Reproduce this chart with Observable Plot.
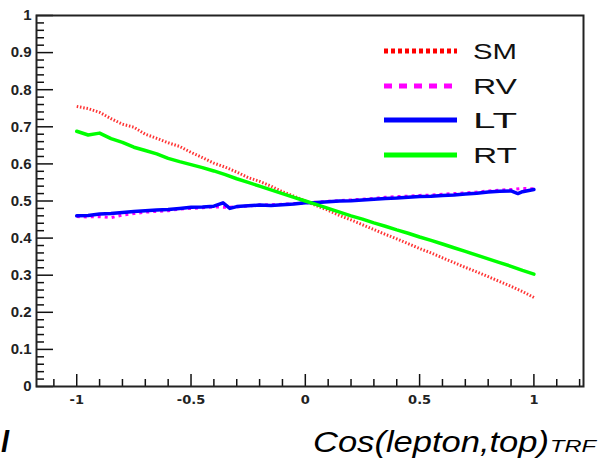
<!DOCTYPE html>
<html><head><meta charset="utf-8">
<script src="https://cdn.jsdelivr.net/npm/d3@7"></script>
<script src="https://cdn.jsdelivr.net/npm/@observablehq/plot@0.6"></script>
<style>body{margin:0;background:#fff}#chart{width:609px;height:461px}</style>
</head><body><div id="chart"></div>
<script>
// x values (bin centres) for SM, RV, RT
const xs = [-1,-0.95,-0.9,-0.85,-0.8,-0.75,-0.7,-0.65,-0.6,-0.55,-0.5,-0.45,-0.4,-0.35,-0.3,-0.25,-0.2,-0.15,-0.1,-0.05,0,0.05,0.1,0.15,0.2,0.25,0.3,0.35,0.4,0.45,0.5,0.55,0.6,0.65,0.7,0.75,0.8,0.85,0.9,0.95,1];
const smVals = [0.755,0.749,0.739,0.722,0.707,0.699,0.680,0.669,0.657,0.647,0.631,0.617,0.602,0.591,0.578,0.563,0.553,0.540,0.525,0.513,0.500,0.487,0.475,0.461,0.449,0.436,0.423,0.410,0.398,0.385,0.372,0.360,0.347,0.334,0.321,0.309,0.296,0.283,0.270,0.256,0.240];
const rvVals = [0.458,0.457,0.458,0.455,0.462,0.466,0.470,0.472,0.474,0.478,0.480,0.482,0.484,0.483,0.484,0.487,0.489,0.490,0.491,0.493,0.495,0.497,0.499,0.501,0.503,0.505,0.507,0.510,0.512,0.513,0.515,0.516,0.518,0.520,0.522,0.524,0.527,0.529,0.531,0.534,0.533];
const rtVals = [0.688,0.678,0.683,0.668,0.658,0.645,0.636,0.627,0.615,0.606,0.598,0.590,0.581,0.571,0.560,0.550,0.540,0.530,0.520,0.510,0.500,0.490,0.480,0.470,0.460,0.451,0.441,0.432,0.422,0.413,0.403,0.394,0.384,0.374,0.364,0.354,0.344,0.334,0.324,0.313,0.303];
const ltX = [-1,-0.95,-0.9,-0.85,-0.8,-0.75,-0.7,-0.65,-0.6,-0.55,-0.5,-0.45,-0.4,-0.36,-0.33,-0.3,-0.25,-0.2,-0.15,-0.1,-0.05,0,0.05,0.1,0.15,0.2,0.25,0.3,0.35,0.4,0.45,0.5,0.55,0.6,0.65,0.7,0.75,0.8,0.85,0.9,0.93,0.95,1];
const ltVals = [0.460,0.461,0.465,0.466,0.469,0.472,0.474,0.476,0.477,0.480,0.483,0.484,0.486,0.495,0.480,0.485,0.487,0.489,0.488,0.490,0.492,0.495,0.496,0.498,0.500,0.501,0.503,0.505,0.507,0.508,0.510,0.512,0.513,0.515,0.516,0.519,0.521,0.524,0.526,0.527,0.520,0.525,0.531];

const seriesNames = ["SM","RV","LT","RT"];
const seriesColors = ["#ff0000","#ff00ff","#0000ff","#00ff00"];

const xTickVals = [-1,-0.5,0,0.5,1];
const xTickLabels = ["-1","-0.5","0","0.5","1"];
const yTickVals = [0,0.1,0.2,0.3,0.4,0.5,0.6,0.7,0.8,0.9,1];
const yTickLabels = ["0","0.1","0.2","0.3","0.4","0.5","0.6","0.7","0.8","0.9","1"];
const xTitle = "Cos(lepton,top)";
const xTitleSub = "TRF";
const cutText = "l";

const W = 609, H = 461, mL = 36, mT = 15, mR = 26, mB = 75;
const fw = W - mL - mR, fh = H - mT - mB;

const xMinor = d3.range(-11, 13).map(i => i / 10).filter(v => Math.abs(v * 2 - Math.round(v * 2)) > 1e-6);
const yMinor = d3.range(1, 50).map(i => i / 50).filter(v => Math.abs(v * 10 - Math.round(v * 10)) > 1e-6);

const toRows = (xArr, yArr) => xArr.map((x, i) => ({x, y: yArr[i]}));
const sm = toRows(xs, smVals), rv = toRows(xs, rvVals), rt = toRows(xs, rtVals), lt = toRows(ltX, ltVals);

const xLabelMap = new Map(xTickVals.map((v, i) => [v, xTickLabels[i]]));
const yLabelMap = new Map(yTickVals.map((v, i) => [v, yTickLabels[i]]));

const chart = Plot.plot({
  width: W, height: H,
  marginLeft: mL, marginTop: mT, marginRight: mR, marginBottom: mB,
  style: {background: "#fff"},
  x: {domain: [-1.176, 1.217]},
  y: {domain: [0, 1]},
  marks: [
    Plot.line(sm, {x: "x", y: "y", stroke: seriesColors[0], strokeWidth: 3, strokeDasharray: "1.5,1.8", strokeLinecap: "butt", strokeOpacity: 0.8}),
    Plot.line(rv, {x: "x", y: "y", stroke: seriesColors[1], strokeWidth: 3, strokeDasharray: "3,4", strokeLinecap: "butt"}),
    Plot.line(lt, {x: "x", y: "y", stroke: seriesColors[2], strokeWidth: 3.5}),
    Plot.line(rt, {x: "x", y: "y", stroke: seriesColors[3], strokeWidth: 3.5}),
    Plot.tickY(yTickVals, {y: d => d, insetRight: fw - 17, stroke: "#111", strokeWidth: 1.5}),
    Plot.tickY(yMinor, {y: d => d, insetRight: fw - 8, stroke: "#111", strokeWidth: 1.5}),
    Plot.tickX(xTickVals, {x: d => d, insetTop: fh - 12, stroke: "#111", strokeWidth: 1.5}),
    Plot.tickX(xMinor, {x: d => d, insetTop: fh - 7, stroke: "#111", strokeWidth: 1.5}),
    Plot.frame({stroke: "#222", strokeWidth: 2}),
    Plot.axisY(yTickVals, {tickSize: 0, tickPadding: 5, tickFormat: d => yLabelMap.get(d), fontSize: 15, fontWeight: "bold", fill: "#222", fontFamily: "Liberation Sans, Arial, sans-serif", label: null}),
    Plot.axisX(xTickVals, {tickSize: 0, tickPadding: 8, tickFormat: d => xLabelMap.get(d), fontSize: 13, fontWeight: "bold", fill: "#222", fontFamily: "DejaVu Sans, sans-serif", label: null})
  ]
});
document.getElementById("chart").appendChild(chart);

// legend and axis title
const svg = d3.select(chart);
const legendStyles = [
  {dash: "4,3", w: 5},
  {dash: "8,7", w: 5},
  {dash: null, w: 5},
  {dash: null, w: 5}
];
const legY = [51, 86, 120, 155];
const lg = svg.append("g").attr("text-anchor", "start");
seriesNames.forEach((name, i) => {
  const ln = lg.append("line").attr("x1", 384).attr("x2", 457).attr("y1", legY[i]).attr("y2", legY[i])
    .attr("stroke", seriesColors[i]).attr("stroke-width", legendStyles[i].w);
  if (legendStyles[i].dash) ln.attr("stroke-dasharray", legendStyles[i].dash);
  lg.append("text").attr("x", 473).attr("y", legY[i] + 8).text(name)
    .attr("font-family", "Liberation Sans, Arial, sans-serif").attr("font-size", 22)
    .attr("textLength", 44).attr("lengthAdjust", "spacingAndGlyphs").attr("fill", "#111");
});
const t = svg.append("text").attr("x", 313).attr("y", 452).attr("text-anchor", "start")
  .attr("font-family", "Liberation Sans, Arial, sans-serif").attr("font-style", "italic").attr("fill", "#000");
t.append("tspan").attr("font-size", 29).text(xTitle).attr("textLength", 236).attr("lengthAdjust", "spacingAndGlyphs");
t.append("tspan").attr("font-size", 16).attr("x", 550).text(xTitleSub).attr("textLength", 46).attr("lengthAdjust", "spacingAndGlyphs");
svg.append("text").attr("x", 1).attr("y", 452).attr("text-anchor", "start")
  .attr("font-family", "Liberation Sans, Arial, sans-serif").attr("font-style", "italic").attr("font-weight", "bold").attr("font-size", 29).text(cutText);
</script></body></html>
